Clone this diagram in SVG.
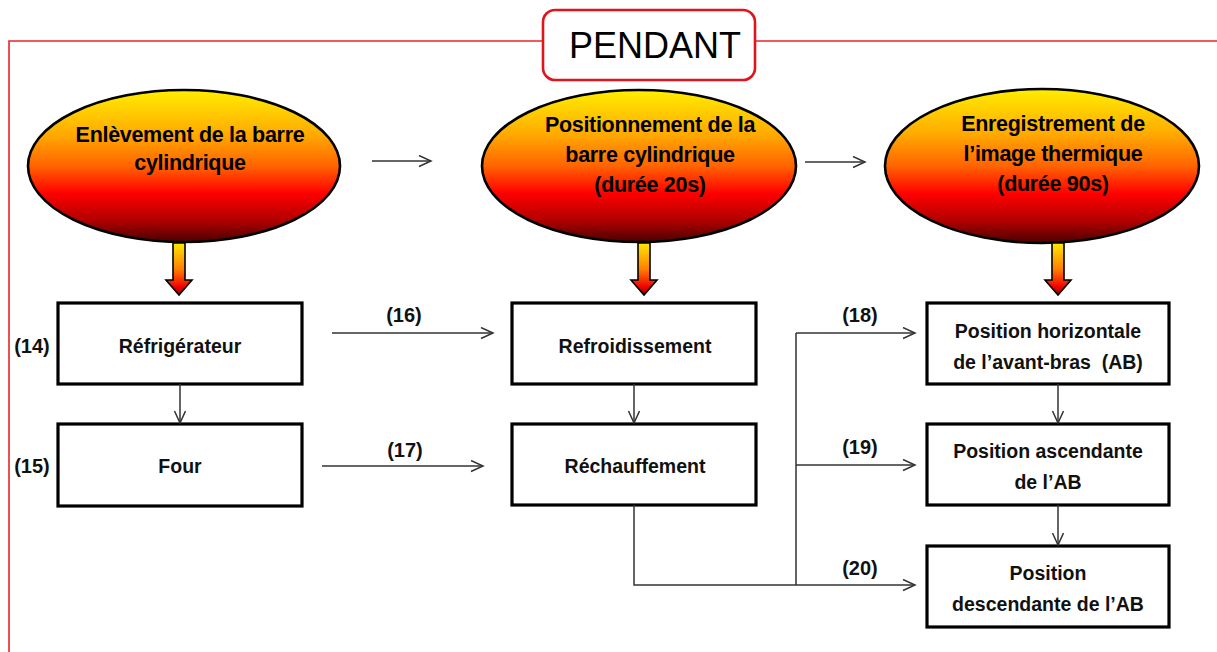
<svg xmlns="http://www.w3.org/2000/svg" width="1217" height="652" viewBox="0 0 1217 652">
<style>
.frame{fill:none;stroke:#E8252B;stroke-width:1.6}
.title{fill:#fff;stroke:#E0141C;stroke-width:2.6}
.ttl{font-family:"Liberation Sans",Arial,sans-serif;font-size:36px;fill:#000;text-anchor:middle}
.ell{stroke:#000;stroke-width:2.6}
.et{font-family:"Liberation Sans",Arial,sans-serif;font-weight:bold;font-size:21.5px;fill:#000;text-anchor:middle;letter-spacing:-0.3px}
.box{fill:#fff;stroke:#000;stroke-width:3.2}
.bt{font-family:"Liberation Sans",Arial,sans-serif;font-weight:bold;font-size:19.5px;fill:#111;text-anchor:middle;white-space:pre}
.lbl{font-family:"Liberation Sans",Arial,sans-serif;font-weight:bold;font-size:20px;fill:#111;text-anchor:middle}
.con{fill:none;stroke:#333;stroke-width:1.5}
.arr{marker-end:url(#ah)}
.big{stroke:#000;stroke-width:1.6}
</style>
<defs>
<linearGradient id="eg" x1="0" y1="0" x2="0" y2="1">
<stop offset="0" stop-color="#FFEE00"/>
<stop offset="0.3" stop-color="#FFA800"/>
<stop offset="0.5" stop-color="#FF6400"/>
<stop offset="0.68" stop-color="#FF0000"/>
<stop offset="0.86" stop-color="#B00000"/>
<stop offset="1" stop-color="#4A0000"/>
</linearGradient>
<linearGradient id="ag" x1="0" y1="0" x2="0" y2="1">
<stop offset="0" stop-color="#FFE800"/>
<stop offset="0.5" stop-color="#FF8000"/>
<stop offset="0.85" stop-color="#F00000"/>
<stop offset="1" stop-color="#900000"/>
</linearGradient>
<marker id="ah" markerUnits="userSpaceOnUse" markerWidth="16" markerHeight="16" refX="13" refY="6" orient="auto">
<path d="M1,0.5 L13,6 L1,11.5" fill="none" stroke="#333" stroke-width="1.5"/>
</marker>
<path id="dn" d="M-6,0 L6,0 L6,37 L13,37 L0,52 L-13,37 L-6,37 Z"/>
</defs>

<g id="frame">
<path class="frame" d="M1217,41 L755,41 M543,41 L9,41 L9,652"/>
</g>

<g id="title">
<rect class="title" x="543" y="10" width="212" height="70" rx="12"/>
<text class="ttl" x="655" y="58">PENDANT</text>
</g>

<g id="e1">
<ellipse class="ell" cx="184" cy="166" rx="156" ry="76" fill="url(#eg)"/>
<text class="et" x="190" y="142">Enlèvement de la barre</text>
<text class="et" x="190" y="170">cylindrique</text>
</g>
<g id="e2">
<ellipse class="ell" cx="639" cy="166" rx="157" ry="76" fill="url(#eg)"/>
<text class="et" x="650" y="132">Positionnement de la</text>
<text class="et" x="650" y="162">barre cylindrique</text>
<text class="et" x="650" y="192">(durée 20s)</text>
</g>
<g id="e3">
<ellipse class="ell" cx="1042" cy="166" rx="157" ry="77" fill="url(#eg)"/>
<text class="et" x="1053" y="131">Enregistrement de</text>
<text class="et" x="1053" y="161">l’image thermique</text>
<text class="et" x="1053" y="191">(durée 90s)</text>
</g>

<g id="downarrows">
<use href="#dn" x="179" y="243" fill="url(#ag)" class="big"/>
<use href="#dn" x="644" y="243" fill="url(#ag)" class="big"/>
<use href="#dn" x="1058" y="243" fill="url(#ag)" class="big"/>
</g>

<g id="n14">
<rect class="box" x="58" y="303" width="244" height="81"/>
<text class="bt" x="180" y="353">Réfrigérateur</text>
<text class="lbl" x="32" y="353">(14)</text>
</g>
<g id="n15">
<rect class="box" x="58" y="424" width="244" height="82"/>
<text class="bt" x="180" y="473">Four</text>
<text class="lbl" x="32" y="473">(15)</text>
</g>
<g id="n16">
<rect class="box" x="512" y="303" width="244" height="81"/>
<text class="bt" x="635" y="353">Refroidissement</text>
</g>
<g id="n17">
<rect class="box" x="512" y="424" width="244" height="81"/>
<text class="bt" x="635" y="473">Réchauffement</text>
</g>
<g id="n18">
<rect class="box" x="927" y="303" width="242" height="81"/>
<text class="bt" x="1048" y="338">Position horizontale</text>
<text class="bt" x="1048" y="369">de l’avant-bras  (AB)</text>
</g>
<g id="n19">
<rect class="box" x="927" y="424" width="242" height="81"/>
<text class="bt" x="1048" y="458">Position ascendante</text>
<text class="bt" x="1048" y="489">de l’AB</text>
</g>
<g id="n20">
<rect class="box" x="927" y="546" width="242" height="81"/>
<text class="bt" x="1048" y="580">Position</text>
<text class="bt" x="1048" y="611">descendante de l’AB</text>
</g>

<g id="connectors">
<line class="con arr" x1="372" y1="161" x2="431" y2="161"/>
<line class="con arr" x1="805" y1="162" x2="865" y2="162"/>
<line class="con arr" x1="180" y1="384" x2="180" y2="423"/>
<line class="con arr" x1="634" y1="384" x2="634" y2="423"/>
<line class="con arr" x1="1058" y1="384" x2="1058" y2="423"/>
<line class="con arr" x1="1058" y1="505" x2="1058" y2="545"/>
<line class="con arr" x1="332" y1="333" x2="493" y2="333"/>
<line class="con arr" x1="322" y1="466" x2="483" y2="466"/>
<path class="con" d="M634,505 L634,585 L796,585 M796,333 L796,585"/>
<line class="con arr" x1="796" y1="333" x2="915" y2="333"/>
<line class="con arr" x1="796" y1="465" x2="915" y2="465"/>
<line class="con arr" x1="796" y1="585" x2="915" y2="585"/>
<text class="lbl" x="404" y="322">(16)</text>
<text class="lbl" x="405" y="457">(17)</text>
<text class="lbl" x="860" y="322">(18)</text>
<text class="lbl" x="860" y="454">(19)</text>
<text class="lbl" x="860" y="575">(20)</text>
</g>
</svg>
